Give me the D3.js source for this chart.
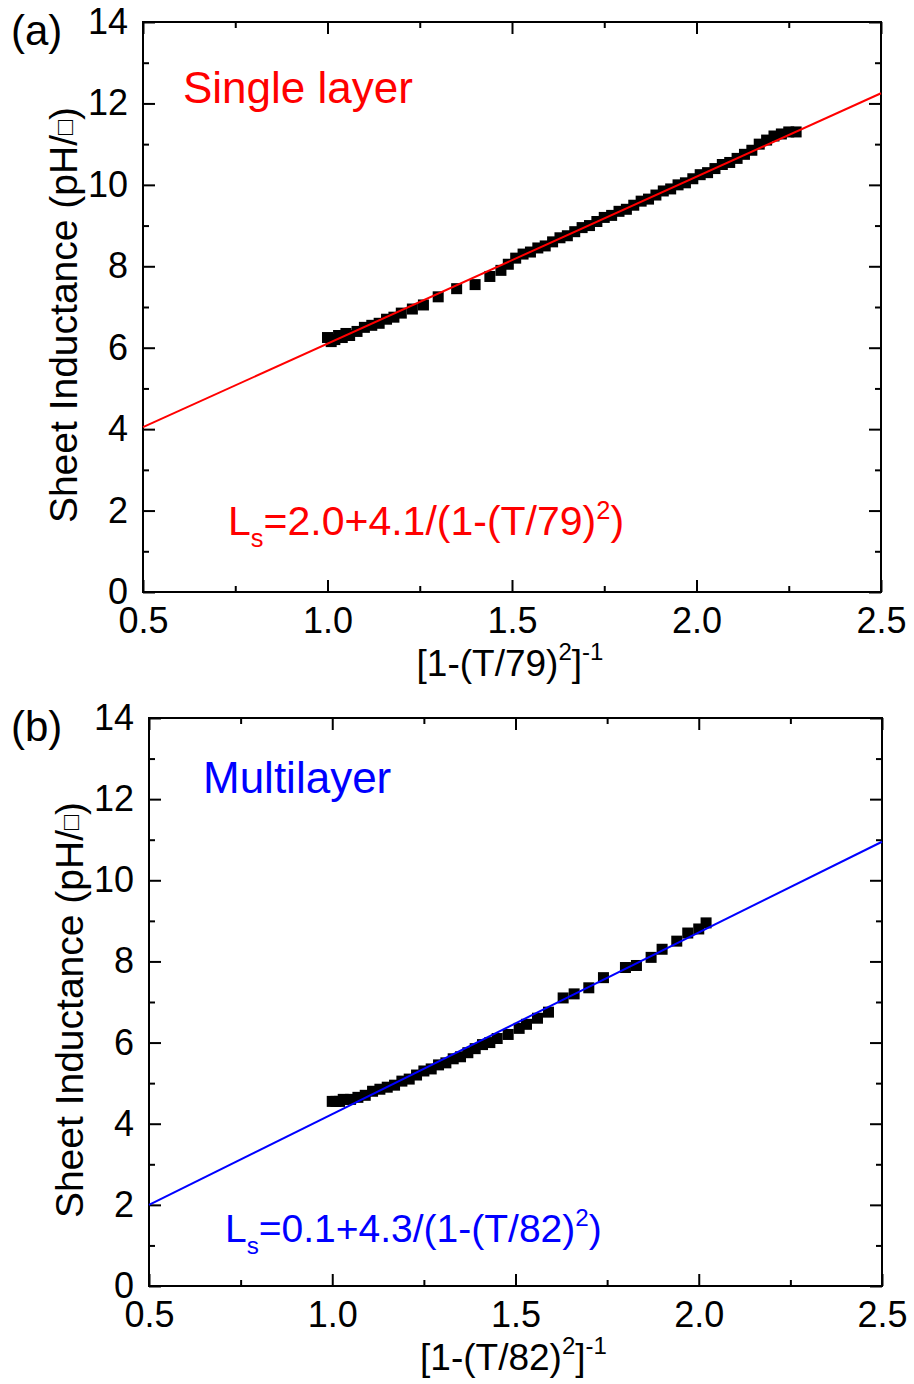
<!DOCTYPE html>
<html>
<head>
<meta charset="utf-8">
<script src="https://cdn.jsdelivr.net/npm/d3@7"></script>
<style>
body { margin: 0; background: #fff; }
text { font-family: "Liberation Sans", Arial, sans-serif; }
</style>
</head>
<body>
<div id="vue"></div>
<script>
// valeurs
var xTicks = [0.5, 1.0, 1.5, 2.0, 2.5];
var xMinor = [0.75, 1.25, 1.75, 2.25];
var yTicks = [0, 2, 4, 6, 8, 10, 12, 14];
var yMinor = [1, 3, 5, 7, 9, 11, 13];

// (a) single layer
var xA = [1.00, 1.01, 1.02, 1.03, 1.04, 1.05, 1.06, 1.08, 1.10, 1.12, 1.14, 1.16, 1.18, 1.20, 1.23, 1.26,
          1.30, 1.35, 1.40, 1.44, 1.47, 1.49, 1.51, 1.53, 1.55, 1.57, 1.59, 1.61, 1.63, 1.65, 1.67, 1.69,
          1.71, 1.73, 1.75, 1.77, 1.79, 1.81, 1.83, 1.85, 1.87, 1.89, 1.91, 1.93, 1.95, 1.97, 1.99, 2.01,
          2.03, 2.05, 2.07, 2.09, 2.11, 2.13, 2.15, 2.17, 2.19, 2.21, 2.23, 2.25, 2.27];
var yA = [6.25, 6.15, 6.20, 6.30, 6.25, 6.35, 6.30, 6.40, 6.50, 6.55, 6.60, 6.70, 6.75, 6.85, 6.95, 7.05,
          7.25, 7.45, 7.55, 7.75, 7.90, 8.05, 8.20, 8.30, 8.35, 8.45, 8.50, 8.60, 8.70, 8.75, 8.85, 8.95,
          9.00, 9.10, 9.20, 9.25, 9.35, 9.40, 9.50, 9.60, 9.65, 9.75, 9.85, 9.90, 10.00, 10.05, 10.15, 10.25,
          10.30, 10.40, 10.50, 10.55, 10.65, 10.75, 10.85, 11.00, 11.10, 11.20, 11.25, 11.30, 11.30];

// (b) multilayer
var xB = [1.00, 1.01, 1.02, 1.03, 1.05, 1.07, 1.09, 1.11, 1.13, 1.15, 1.17, 1.19, 1.21, 1.23, 1.25, 1.27,
          1.29, 1.31, 1.33, 1.35, 1.37, 1.39, 1.41, 1.43, 1.45, 1.48, 1.51, 1.53, 1.56, 1.59, 1.63, 1.66,
          1.70, 1.74, 1.80, 1.83, 1.87, 1.90, 1.94, 1.97, 2.00, 2.02];
var yB = [4.55, 4.55, 4.55, 4.60, 4.60, 4.65, 4.70, 4.80, 4.85, 4.90, 4.95, 5.05, 5.10, 5.20, 5.30, 5.35,
          5.45, 5.50, 5.60, 5.65, 5.75, 5.85, 5.95, 6.00, 6.10, 6.20, 6.35, 6.45, 6.60, 6.75, 7.10, 7.20,
          7.35, 7.60, 7.85, 7.90, 8.10, 8.30, 8.50, 8.70, 8.80, 8.95];

// droites d'ajustement (extrémités lues)
var fitX = [0.5, 2.5];
var fitA = [4.05, 12.25];
var fitB = [2.0, 10.95];

var width = 914, height = 1384;
var svg = d3.select("#vue").append("svg")
  .attr("width", width)
  .attr("height", height);

function drawPanel(o) {
  var x = d3.scaleLinear().domain([0.5, 2.5]).range([o.left, o.right]);
  var y = d3.scaleLinear().domain([0, 14]).range([o.bottom, o.top]);
  var g = svg.append("g");

  // ticks majeurs + mineurs, vers l'intérieur
  function ax(gen, vals, size, fmt, tr) {
    var a = g.append("g").attr("transform", tr)
      .call(gen.tickValues(vals).tickSizeInner(-size).tickSizeOuter(0).tickPadding(fmt ? 15 : 0)
        .tickFormat(fmt || function () { return ""; }));
    a.select(".domain").remove();
    a.selectAll("line").attr("stroke", "#000").attr("stroke-width", 2);
    a.selectAll("text").attr("font-size", 36).attr("fill", "#000")
      .attr("font-family", "Liberation Sans, Arial, sans-serif");
    return a;
  }
  ax(d3.axisBottom(x), xTicks, 12, d3.format(".1f"), "translate(0," + o.bottom + ")");
  ax(d3.axisBottom(x), xMinor, 6, null, "translate(0," + o.bottom + ")");
  ax(d3.axisTop(x), xTicks, 12, null, "translate(0," + o.top + ")");
  ax(d3.axisTop(x), xMinor, 6, null, "translate(0," + o.top + ")");
  ax(d3.axisLeft(y), yTicks, 12, d3.format("d"), "translate(" + o.left + ",0)");
  ax(d3.axisLeft(y), yMinor, 6, null, "translate(" + o.left + ",0)");
  ax(d3.axisRight(y), yTicks, 12, null, "translate(" + o.right + ",0)");
  ax(d3.axisRight(y), yMinor, 6, null, "translate(" + o.right + ",0)");

  // cadre
  g.append("rect")
    .attr("x", o.left).attr("y", o.top)
    .attr("width", o.right - o.left).attr("height", o.bottom - o.top)
    .attr("fill", "none").attr("stroke", "#000").attr("stroke-width", 2);

  // points
  g.append("g").selectAll("rect")
    .data(o.xs.map(function (d, i) { return [d, o.ys[i]]; }))
    .enter().append("rect")
    .attr("x", function (d) { return x(d[0]) - 5.5; })
    .attr("y", function (d) { return y(d[1]) - 5.5; })
    .attr("width", 11).attr("height", 11)
    .attr("fill", "#000");

  // droite
  var line = d3.line().x(function (d) { return x(d[0]); }).y(function (d) { return y(d[1]); });
  g.append("path")
    .datum(fitX.map(function (d, i) { return [d, o.fit[i]]; }))
    .attr("d", line)
    .attr("fill", "none").attr("stroke", o.color).attr("stroke-width", 2);

  // (a) / (b)
  g.append("text").attr("x", 11).attr("y", o.top + 23)
    .attr("font-size", 42).text(o.label);

  // titre y
  var yt = g.append("text")
    .attr("transform", "translate(" + (o.left - 66) + "," + ((o.top + o.bottom) / 2 + 8) + ") rotate(-90)")
    .attr("text-anchor", "middle").attr("font-size", 39);
  yt.append("tspan").text("Sheet Inductance (pH/");
  yt.append("tspan").attr("font-size", 25).attr("dy", -4).text("\u25A1");
  yt.append("tspan").attr("dy", 4).text(")");

  // titre x
  var xt = g.append("text")
    .attr("x", (o.left + o.right) / 2 - 2).attr("y", o.bottom + 84)
    .attr("text-anchor", "middle").attr("font-size", 37);
  xt.append("tspan").text("[1-(T/" + o.tc + ")");
  xt.append("tspan").attr("font-size", 24).attr("dy", -16).text("2");
  xt.append("tspan").attr("dy", 16).text("]");
  xt.append("tspan").attr("font-size", 24).attr("dy", -16).text("-1");

  // légende
  g.append("text").attr("x", o.noteX).attr("y", o.noteY)
    .attr("font-size", 44).attr("fill", o.color).text(o.note);

  // formule
  var ft = g.append("text").attr("x", o.fX).attr("y", o.fY)
    .attr("font-size", o.fSize).attr("fill", o.color);
  ft.append("tspan").text("L");
  ft.append("tspan").attr("font-size", o.fSize * 0.62).attr("dy", 12).text("s");
  ft.append("tspan").attr("dy", -12).text(o.formula);
  ft.append("tspan").attr("font-size", o.fSize * 0.62).attr("dy", -o.fSize * 0.4).text("2");
  ft.append("tspan").attr("dy", o.fSize * 0.4).text(")");
}

drawPanel({
  left: 143, right: 881, top: 22, bottom: 592,
  xs: xA, ys: yA, fit: fitA, color: "#ff0000",
  label: "(a)", tc: 79,
  note: "Single layer", noteX: 183, noteY: 103,
  formula: "=2.0+4.1/(1-(T/79)", fX: 228, fY: 535, fSize: 41
});

drawPanel({
  left: 149, right: 882, top: 718, bottom: 1286,
  xs: xB, ys: yB, fit: fitB, color: "#0000ff",
  label: "(b)", tc: 82,
  note: "Multilayer", noteX: 203, noteY: 793,
  formula: "=0.1+4.3/(1-(T/82)", fX: 225, fY: 1242, fSize: 39
});
</script>
</body>
</html>
